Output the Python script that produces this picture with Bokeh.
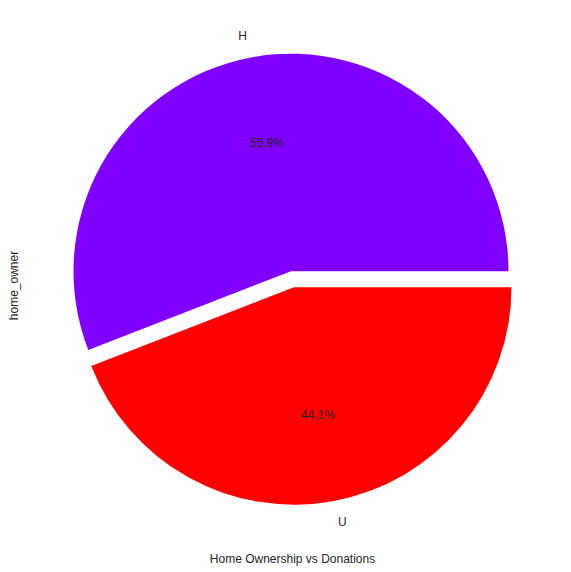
import math
from bokeh.plotting import figure
from bokeh.models import Range1d, ColumnDataSource
from bokeh.core.properties import value
from bokeh.embed import file_html
from bokeh.resources import INLINE

categories = ["H", "U"]
shares = [55.9, 44.1]
colors = ["#8000ff", "#ff0000"]
explode = [0.0373, 0.0373]
title_text = "Home Ownership vs Donations"
ylabel_text = "home_owner"

FONT = value("Liberation Sans")
TXT = "#262626"
FS = "12px"

W, H = 569, 570
scale = 217.5          # pixels per unit radius
cx, cy = 292.0, 278.7  # pie centre in figure pixels

p = figure(width=W, height=H, output_backend="svg", toolbar_location=None,
           x_range=Range1d(-cx / scale, (W - cx) / scale),
           y_range=Range1d(-(H - cy) / scale, cy / scale),
           min_border=0)
p.axis.visible = False
p.grid.visible = False
p.outline_line_color = None
p.background_fill_color = "white"

total = sum(shares)
starts, ends, xs, ys = [], [], [], []
lab_x, lab_y, lab_align = [], [], []
pct_x, pct_y, pct_txt = [], [], []
a = 0.0
for cat, s, ex in zip(categories, shares, explode):
    a0 = a
    a1 = a + 2 * math.pi * s / total
    mid = (a0 + a1) / 2
    ox, oy = ex * math.cos(mid), ex * math.sin(mid)
    starts.append(a0); ends.append(a1); xs.append(ox); ys.append(oy)
    lx = ox + 1.1 * math.cos(mid)
    lab_x.append(lx); lab_y.append(oy + 1.1 * math.sin(mid))
    lab_align.append("left" if lx > 0 else "right")
    pct_x.append(ox + 0.6 * math.cos(mid)); pct_y.append(oy + 0.6 * math.sin(mid))
    pct_txt.append(f"{s:.1f}%")
    a = a1

src = ColumnDataSource(dict(x=xs, y=ys, start=starts, end=ends, color=colors,
                            lx=lab_x, ly=lab_y, la=lab_align, cat=categories,
                            px=pct_x, py=pct_y, pt=pct_txt))

p.wedge(x="x", y="y", radius=1.0, start_angle="start", end_angle="end",
        fill_color="color", line_color=None, source=src)

p.text(x="lx", y="ly", text="cat", text_align="la", text_baseline="middle",
       text_font=FONT, text_font_size=FS, text_color=TXT, source=src)
p.text(x="px", y="py", text="pt", text_align="center", text_baseline="middle",
       text_font=FONT, text_font_size=FS, text_color=TXT, source=src)

# axis-style labels
p.text(x=[(292 - cx) / scale], y=[(cy - 558) / scale], text=[title_text],
       text_align="center", text_baseline="middle", text_font=FONT,
       text_font_size=FS, text_color=TXT)
p.text(x=[(13 - cx) / scale], y=[(cy - 285) / scale], text=[ylabel_text],
       angle=math.pi / 2, text_align="center", text_baseline="middle",
       text_font=FONT, text_font_size=FS, text_color=TXT)

open("out.html", "w").write(file_html(p, INLINE))
